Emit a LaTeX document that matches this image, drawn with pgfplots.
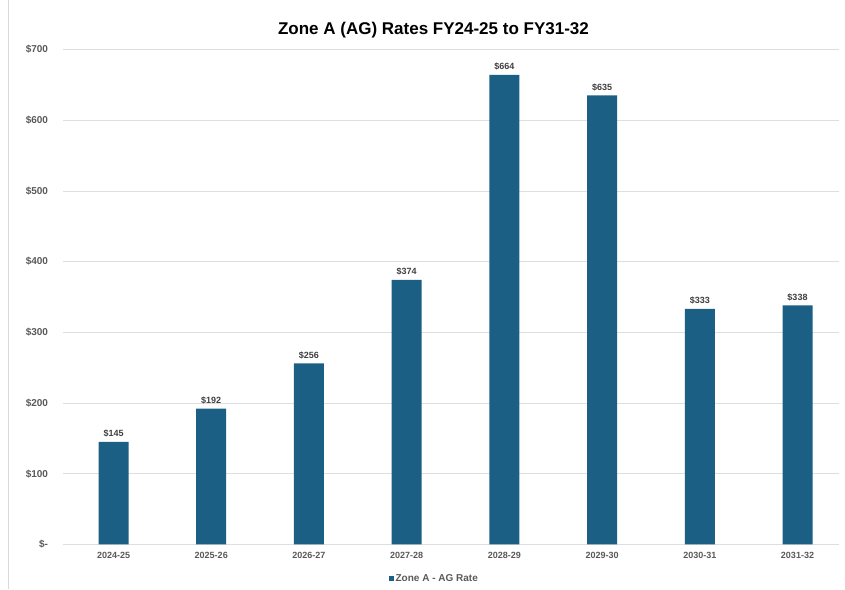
\documentclass[border=0pt]{standalone}
\usepackage{pgfplots}
\pgfplotsset{compat=1.18}
\usepackage{fontspec}
\setmainfont{Liberation Sans}
\definecolor{barblue}{RGB}{27,96,132}
\definecolor{ticklab}{RGB}{89,89,89}
\definecolor{gridc}{RGB}{222,222,222}
\begin{document}
\begin{tikzpicture}[x=1pt,y=1pt]
\draw[gray!30, line width=0.8pt] (8,0) -- (8,589);
\begin{axis}[
  at={(64,63)}, anchor=south west,
  scale only axis, width=776pt, height=495pt,
  ymin=0, ymax=700, xmin=-0.522, xmax=7.42,
  ytick={0,100,200,300,400,500,600,700},
  yticklabels={\$-,\$100,\$200,\$300,\$400,\$500,\$600,\$700},
  xtick={0,...,7},
  xticklabels={2024-25,2025-26,2026-27,2027-28,2028-29,2029-30,2030-31,2031-32},
  ymajorgrids, grid style={gridc, line width=0.6pt},
  axis x line*=bottom, axis y line*=left,
  x axis line style={gridc, line width=0.8pt},
  y axis line style={draw=none},
  major tick length=0pt,
  tick label style={font=\fontsize{9}{10}\selectfont\bfseries, text=ticklab},
  yticklabel style={xshift=-11pt, font=\fontsize{10}{11}\selectfont\bfseries},
  xticklabel style={yshift=-4pt},
  /pgf/number format/assume math mode=true,
  ybar, bar width=30pt,
  nodes near coords={\$\pgfmathprintnumber{\pgfplotspointmeta}},
  nodes near coords style={font=\fontsize{9}{10}\selectfont\bfseries, text=black!75, yshift=1pt},
  title={Zone A (AG) Rates FY24-25 to FY31-32},
  title style={font=\fontsize{17}{19}\selectfont\bfseries, at={(0.478,1)}, yshift=2pt},
  legend style={at={(0.479,-0.069)}, anchor=center, draw=none, fill=none,
    font=\fontsize{10}{12}\selectfont\bfseries, text=ticklab},
  legend image code/.code={\fill[barblue] (0pt,-2.5pt) rectangle (5pt,2.5pt);},
]
\addplot[fill=barblue, draw=none] coordinates {(0,145) (1,192) (2,256) (3,374) (4,664) (5,635) (6,333) (7,338)};
\addlegendentry{Zone A - AG Rate}
\end{axis}
\pgfresetboundingbox
\path[use as bounding box] (0,0) rectangle (845,589);
\end{tikzpicture}
\end{document}
